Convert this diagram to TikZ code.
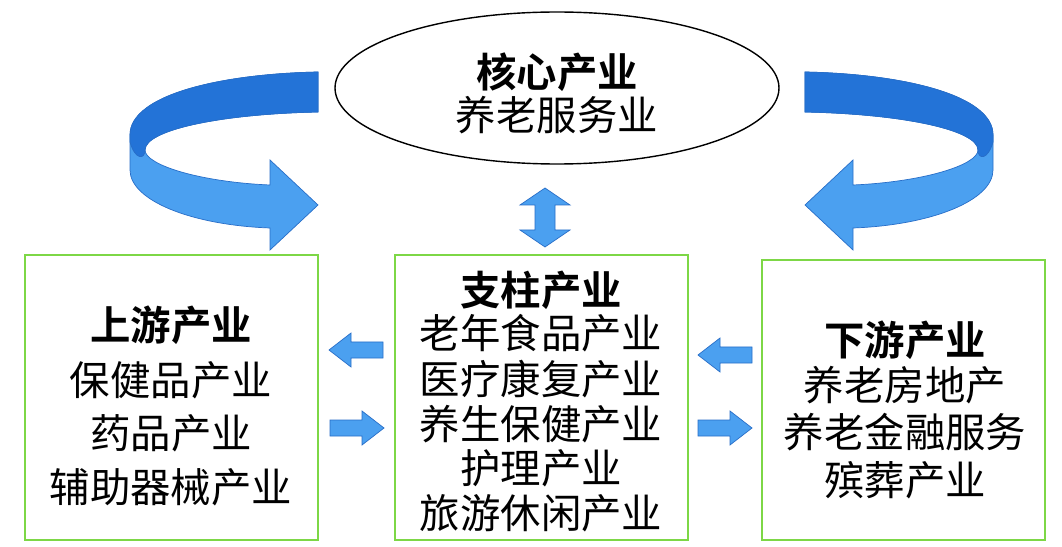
\documentclass[tikz,border=0pt]{standalone}
\usepackage{fontspec}
\setmainfont{Noto Sans CJK SC}[BoldFont={Noto Sans CJK SC Bold}]
\usetikzlibrary{positioning}
\definecolor{BoxColor}{RGB}{125,215,70}
\definecolor{ArrowDark}{RGB}{35,115,215}
\definecolor{ArrowLight}{RGB}{75,160,240}
\definecolor{ArrowEdge}{RGB}{40,110,200}
\tikzset{
  box/.style={draw=BoxColor, line width=1.5pt},
  txt/.style={font=\fontsize{23}{23}\selectfont, inner sep=0pt},
  head/.style={txt, font=\fontsize{23}{23}\selectfont\bfseries},
  blk/.style={fill=ArrowLight, draw=ArrowEdge, thin},
}
\newcommand{\rarrow}[2]{% right-pointing block arrow, tail at (#1,#2)
  \draw[blk] (#1,#2-8) -- ++(32,0) -- ++(0,-9) -- ++(22,17) -- ++(-22,17) -- ++(0,-9) -- ++(-32,0) -- cycle;}
\newcommand{\larrow}[2]{% left-pointing block arrow, tail at (#1,#2)
  \draw[blk] (#1,#2-8) -- ++(-32,0) -- ++(0,-9) -- ++(-22,17) -- ++(22,17) -- ++(0,-9) -- ++(32,0) -- cycle;}
\begin{document}
\begin{tikzpicture}[x=0.02cm, y=-0.02cm]
\useasboundingbox (0,0) rectangle (1062,547);
\fill[white] (0,0) rectangle (1062,547);
% boxes
\draw[box] (25,255) rectangle (318,540);
\draw[box] (395,255) rectangle (688,540);
\draw[box] (762,260) rectangle (1045,540);
\draw[thick] (557,88) ellipse (222 and 76);
% core
\node[head] (core) at (557,72) {核心产业};
\node[txt] (elder) at (557,115) {养老服务业};
% upstream
\node[head] (up) at (171,325) {上游产业};
\node[txt] (up1) at (171,380) {保健品产业};
\node[txt] (up2) at (171,433) {药品产业};
\node[txt] (up3) at (171,487) {辅助器械产业};
% pillar
\node[head] (pil) at (541,290) {支柱产业};
\node[txt] (pil1) at (541,333) {老年食品产业};
\node[txt] (pil2) at (541,379) {医疗康复产业};
\node[txt] (pil3) at (541,424) {养生保健产业};
\node[txt] (pil4) at (541,468) {护理产业};
\node[txt] (pil5) at (541,513) {旅游休闲产业};
% downstream
\node[head] (down) at (905,340) {下游产业};
\node[txt] (down1) at (905,385) {养老房地产};
\node[txt] (down2) at (905,432) {养老金融服务};
\node[txt] (down3) at (905,480) {殡葬产业};
% small arrows
\draw[blk] (535,205) -- (520,205) -- (545,188) -- (570,205) -- (555,205) -- (555,230) -- (570,230)
  -- (545,247) -- (520,230) -- (535,230) -- cycle;
\larrow{383}{350}
\rarrow{330}{428}
\larrow{752}{355}
\rarrow{698}{428}
% curved arrows
\foreach \s/\f in {0/1, 1123/-1} {
\begin{scope}[xshift=\s*0.02cm, xscale=\f]
\fill[ArrowLight, draw=ArrowEdge] (318,112) .. controls (220,114) and (145,130) .. (145,150)
  .. controls (145,165) and (200,182) .. (270,185) -- (270,160) -- (318,205) -- (270,250) -- (270,228)
  .. controls (190,225) and (130,200) .. (130,170) -- (130,135) .. controls (130,95) and (220,74) .. (318,72) -- cycle;
\fill[ArrowDark, draw=ArrowEdge] (318,72) .. controls (220,74) and (130,95) .. (130,135)
  -- (130,142) .. controls (135,160) and (145,160) .. (145,150)
  .. controls (145,130) and (220,114) .. (318,112) -- cycle;
\end{scope}
}
\end{tikzpicture}
\end{document}
